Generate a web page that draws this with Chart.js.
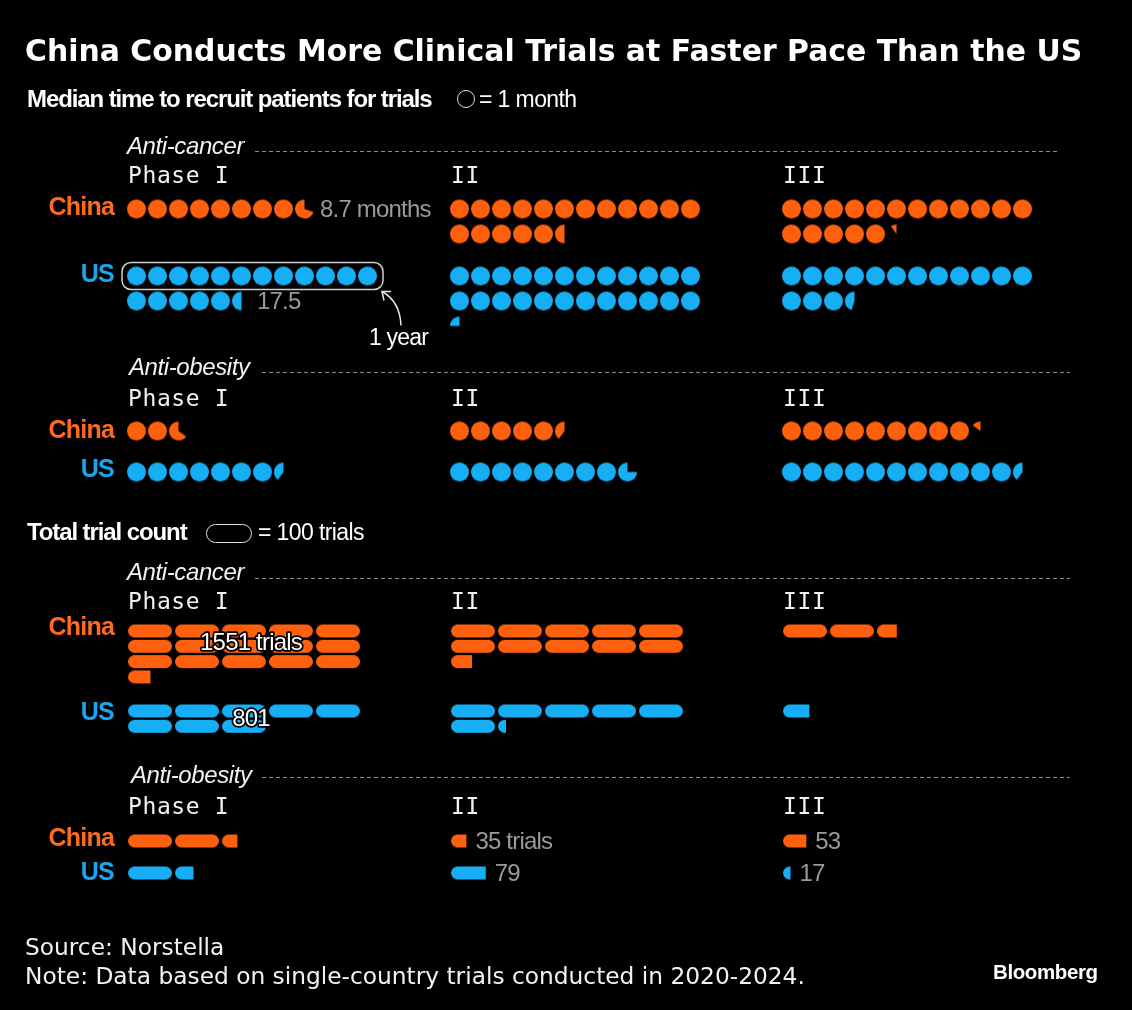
<!DOCTYPE html>
<html>
<head>
<meta charset="utf-8">
<script src="https://cdn.jsdelivr.net/npm/chart.js@4.4.1/dist/chart.umd.min.js"></script>
<style>
  html, body { margin: 0; padding: 0; background: #000; }
  #wrap { position: relative; width: 1132px; height: 1010px; background: #000; overflow: hidden; }
  #chart { position: absolute; left: 0; top: 0; }
  .t { position: absolute; white-space: nowrap; line-height: 1; color: #fff; transform: translateY(-50%); }
  .title { font: bold 29.9px "DejaVu Sans", sans-serif; left: 25px; top: 50px; }
  .sub { font: bold 24px "Liberation Sans", Arial, sans-serif; letter-spacing: -1.1px; }
  .leg { font: 23px "Liberation Sans", Arial, sans-serif; letter-spacing: -0.6px; }
  .cat { font: italic 24px "Liberation Sans", Arial, sans-serif; letter-spacing: -0.4px; color: #f2f2f2; }
  .phase { font: 23px "DejaVu Sans Mono", monospace; letter-spacing: 0.6px; color: #f2f2f2; }
  .cn, .us { font: bold 25px "Liberation Sans", Arial, sans-serif; letter-spacing: -0.8px; text-align: right; width: 100px; left: 14px; }
  .cn { color: #ff6a1f; }
  .us { color: #1aa6ee; }
  .foot { font: 23.3px "DejaVu Sans", sans-serif; left: 25px; color: #f2f2f2; }
  .brand { font: bold 20.5px "Liberation Sans", Arial, sans-serif; letter-spacing: -0.4px; left: 993px; top: 972px; }
  .ring { position: absolute; border: 1.5px solid #ddd; box-sizing: border-box; }
</style>
</head>
<body>
<div id="wrap">
  <canvas id="chart" width="1132" height="1010"></canvas>

  <div class="t title">China Conducts More Clinical Trials at Faster Pace Than the US</div>

  <div class="t sub" style="left:27px; top:99px;">Median time to recruit patients for trials</div>
  <div class="ring" style="left:457px; top:90px; width:18px; height:18px; border-radius:50%;"></div>
  <div class="t leg" style="left:479px; top:99px;">= 1 month</div>

  <div class="t cat" style="left:127px; top:146px;">Anti-cancer</div>
  <div class="t phase" style="left:128px; top:175px;">Phase I</div>
  <div class="t phase" style="left:451px; top:175px;">II</div>
  <div class="t phase" style="left:783px; top:175px;">III</div>
  <div class="t cn" style="top:206px;">China</div>
  <div class="t us" style="top:273px;">US</div>

  <div class="t cat" style="left:129px; top:367px;">Anti-obesity</div>
  <div class="t phase" style="left:128px; top:398px;">Phase I</div>
  <div class="t phase" style="left:451px; top:398px;">II</div>
  <div class="t phase" style="left:783px; top:398px;">III</div>
  <div class="t cn" style="top:429px;">China</div>
  <div class="t us" style="top:468px;">US</div>

  <div class="t sub" style="left:27px; top:532px;">Total trial count</div>
  <div class="ring" style="left:206px; top:524px; width:46px; height:19px; border-radius:10px;"></div>
  <div class="t leg" style="left:258px; top:532px;">= 100 trials</div>

  <div class="t cat" style="left:127px; top:572px;">Anti-cancer</div>
  <div class="t phase" style="left:128px; top:601px;">Phase I</div>
  <div class="t phase" style="left:451px; top:601px;">II</div>
  <div class="t phase" style="left:783px; top:601px;">III</div>
  <div class="t cn" style="top:626px;">China</div>
  <div class="t us" style="top:711px;">US</div>

  <div class="t cat" style="left:131px; top:775px;">Anti-obesity</div>
  <div class="t phase" style="left:128px; top:806px;">Phase I</div>
  <div class="t phase" style="left:451px; top:806px;">II</div>
  <div class="t phase" style="left:783px; top:806px;">III</div>
  <div class="t cn" style="top:837px;">China</div>
  <div class="t us" style="top:871px;">US</div>

  <div class="t foot" style="top:946px;">Source: Norstella</div>
  <div class="t foot" style="top:975px;">Note: Data based on single-country trials conducted in 2020-2024.</div>
  <div class="t brand">Bloomberg</div>
</div>

<script>
// ---- data ----
const phases = ['Phase I', 'II', 'III'];
const countries = ['China', 'US'];

// median months to recruit patients, per phase I / II / III
const cancerMonthsChina = [8.7, 17.5, 17.1];
const cancerMonthsUS = [17.5, 24.25, 15.45];
const obesityMonthsChina = [2.65, 5.4, 9.15];
const obesityMonthsUS = [7.4, 8.75, 11.4];

// total trial counts, per phase I / II / III
const cancerTrialsChina = [1551, 1048, 245];
const cancerTrialsUS = [801, 618, 60];
const obesityTrialsChina = [235, 35, 53];
const obesityTrialsUS = [142, 79, 17];

// ---- layout ----
const W = 1132, H = 1010;
const ORANGE = '#ff600d';
const BLUE = '#16aff5';
const colLeft = [127, 450, 782];

const DOT_D = 19, DOT_STEP = 21, DOT_ROW = 25, DOTS_PER_ROW = 12;
const PILL_W = 44, PILL_H = 13, PILL_STEP = 47, PILL_ROW = 15.3, PILLS_PER_ROW = 5;

// first-row centre y of each block
const rowY = {
    cancerMonths: { China: 209, US: 276 },
    obesityMonths: { China: 431, US: 472 },
    cancerTrials: { China: 631, US: 711 },
    obesityTrials: { China: 841, US: 873 }
};

const LABEL_FONT = '24px "Liberation Sans", Arial, sans-serif';

// ---- mark images ----
function dotImage(color, frac) {
    const c = document.createElement('canvas');
    c.width = DOT_D + 2; c.height = DOT_D + 2;
    const g = c.getContext('2d');
    const m = c.width / 2, r = DOT_D / 2;
    g.fillStyle = color;
    g.beginPath();
    if (frac >= 0.999) {
        g.arc(m, m, r, 0, Math.PI * 2);
    } else {
        g.moveTo(m, m);
        g.arc(m, m, r, -Math.PI / 2, -Math.PI / 2 - frac * Math.PI * 2, true);
        g.closePath();
    }
    g.fill();
    return c;
}

function pillImage(color, frac) {
    const c = document.createElement('canvas');
    c.width = PILL_W + 2; c.height = PILL_H + 2;
    const g = c.getContext('2d');
    g.save();
    g.beginPath();
    g.rect(0, 0, 1 + PILL_W * frac, c.height);
    g.clip();
    g.fillStyle = color;
    g.beginPath();
    g.roundRect(1, 1, PILL_W, PILL_H, PILL_H / 2);
    g.fill();
    g.restore();
    return c;
}

// ---- datasets ----
function dotDataset(value, col, y0, color, label) {
    const pts = [], styles = [];
    for (let i = 0; i < Math.ceil(value - 1e-9); i++) {
        const frac = Math.min(1, value - i);
        const row = Math.floor(i / DOTS_PER_ROW), k = i % DOTS_PER_ROW;
        pts.push({ x: colLeft[col] + k * DOT_STEP + DOT_D / 2, y: y0 + row * DOT_ROW });
        styles.push(dotImage(color, frac));
    }
    return { data: pts, pointStyle: styles, pointRadius: 9, valueLabel: label, kind: 'dot', value: value };
}

function pillDataset(count, col, y0, color, label) {
    const units = count / 100;
    const pts = [], styles = [];
    for (let i = 0; i < Math.ceil(units - 1e-9); i++) {
        const frac = Math.min(1, units - i);
        const row = Math.floor(i / PILLS_PER_ROW), k = i % PILLS_PER_ROW;
        pts.push({ x: colLeft[col] + 1 + k * PILL_STEP + PILL_W / 2, y: y0 + row * PILL_ROW });
        styles.push(pillImage(color, frac));
    }
    return { data: pts, pointStyle: styles, pointRadius: 9, valueLabel: label, kind: 'pill', value: units };
}

const datasets = [];
phases.forEach((p, i) => {
    datasets.push(dotDataset(cancerMonthsChina[i], i, rowY.cancerMonths.China, ORANGE,
        i === 0 ? { text: cancerMonthsChina[i] + ' months', mode: 'after' } : null));
    datasets.push(dotDataset(cancerMonthsUS[i], i, rowY.cancerMonths.US, BLUE,
        i === 0 ? { text: String(cancerMonthsUS[i]), mode: 'after', box: true } : null));
    datasets.push(dotDataset(obesityMonthsChina[i], i, rowY.obesityMonths.China, ORANGE, null));
    datasets.push(dotDataset(obesityMonthsUS[i], i, rowY.obesityMonths.US, BLUE, null));

    datasets.push(pillDataset(cancerTrialsChina[i], i, rowY.cancerTrials.China, ORANGE,
        i === 0 ? { text: cancerTrialsChina[i] + ' trials', mode: 'over', row: 0.8 } : null));
    datasets.push(pillDataset(cancerTrialsUS[i], i, rowY.cancerTrials.US, BLUE,
        i === 0 ? { text: String(cancerTrialsUS[i]), mode: 'over', row: 0.5 } : null));
    datasets.push(pillDataset(obesityTrialsChina[i], i, rowY.obesityTrials.China, ORANGE,
        i > 0 ? { text: obesityTrialsChina[i] + (i === 1 ? ' trials' : ''), mode: 'after' } : null));
    datasets.push(pillDataset(obesityTrialsUS[i], i, rowY.obesityTrials.US, BLUE,
        i > 0 ? { text: String(obesityTrialsUS[i]), mode: 'after' } : null));
});

// dashed rules next to the category names
const rules = [
    { y: 151, x0: 255, x1: 1060 },
    { y: 372, x0: 262, x1: 1070 },
    { y: 578, x0: 255, x1: 1070 },
    { y: 777, x0: 262, x1: 1070 }
];

const decorPlugin = {
    id: 'decor',
    beforeDatasetsDraw(chart) {
        const ctx = chart.ctx;
        const xs = chart.scales.x, ys = chart.scales.y;
        ctx.save();
        ctx.strokeStyle = '#8a8a8a';
        ctx.lineWidth = 1;
        ctx.setLineDash([4, 3]);
        rules.forEach(r => {
            ctx.beginPath();
            ctx.moveTo(xs.getPixelForValue(r.x0), ys.getPixelForValue(r.y) + 0.5);
            ctx.lineTo(xs.getPixelForValue(r.x1), ys.getPixelForValue(r.y) + 0.5);
            ctx.stroke();
        });
        ctx.restore();
    },
    afterDatasetsDraw(chart) {
        const ctx = chart.ctx;
        chart.data.datasets.forEach((ds, di) => {
            const lab = ds.valueLabel;
            if (!lab) return;
            const els = chart.getDatasetMeta(di).data;
            const last = els[els.length - 1];
            ctx.save();
            ctx.font = LABEL_FONT;
            ctx.textBaseline = 'middle';
            if ('letterSpacing' in ctx) ctx.letterSpacing = '-0.8px';
            if (lab.mode === 'after') {
                const frac = ds.value - (els.length - 1);
                const w = ds.kind === 'dot' ? DOT_D : PILL_W;
                const endX = ds.kind === 'dot' ? last.x + DOT_D / 2 : last.x - w / 2 + w * frac;
                ctx.fillStyle = '#9a9a9a';
                ctx.textAlign = 'left';
                ctx.fillText(lab.text, endX + (ds.kind === 'dot' ? 6 : 9), last.y + 1);
            } else {
                const ref = els[2];
                const x = ref.x + 7;
                const y = ref.y + lab.row * PILL_ROW + 0.5;
                ctx.textAlign = 'center';
                ctx.lineJoin = 'round';
                ctx.lineWidth = 3.5;
                ctx.strokeStyle = '#000';
                ctx.strokeText(lab.text, x, y);
                ctx.fillStyle = '#fff';
                ctx.fillText(lab.text, x, y);
            }
            if (lab.box) {
                // "1 year" bracket round the first twelve dots
                const a = els[0], b = els[DOTS_PER_ROW - 1];
                const x0 = a.x - DOT_D / 2 - 5, x1 = b.x + DOT_D / 2 + 6;
                const y0 = a.y - DOT_D / 2 - 4, y1 = a.y + DOT_D / 2 + 4;
                ctx.strokeStyle = '#cfcfcf';
                ctx.lineWidth = 1.5;
                ctx.beginPath();
                ctx.roundRect(x0, y0, x1 - x0, y1 - y0, 9);
                ctx.stroke();
                // arrow
                ctx.strokeStyle = '#e6e6e6';
                ctx.beginPath();
                ctx.moveTo(x1 + 18, y1 + 36);
                ctx.quadraticCurveTo(x1 + 17, y1 + 12, x1 - 1, y1 + 2);
                ctx.stroke();
                ctx.beginPath();
                ctx.moveTo(x1 + 1, y1 + 11);
                ctx.lineTo(x1 - 1, y1 + 2);
                ctx.lineTo(x1 + 8, y1 + 2);
                ctx.stroke();
                ctx.fillStyle = '#fff';
                ctx.textAlign = 'left';
                ctx.font = '23px "Liberation Sans", Arial, sans-serif';
                ctx.fillText('1 year', x1 - 14, y1 + 49);
            }
            ctx.restore();
        });
    }
};

new Chart(document.getElementById('chart'), {
    type: 'scatter',
    data: { datasets: datasets },
    options: {
        responsive: false,
        animation: false,
        events: [],
        layout: { padding: 0, autoPadding: false },
        plugins: { legend: { display: false }, tooltip: { enabled: false } },
        scales: {
            x: { type: 'linear', min: 0, max: W, display: false },
            y: { type: 'linear', min: 0, max: H, reverse: true, display: false }
        }
    },
    plugins: [decorPlugin]
});
</script>
</body>
</html>
